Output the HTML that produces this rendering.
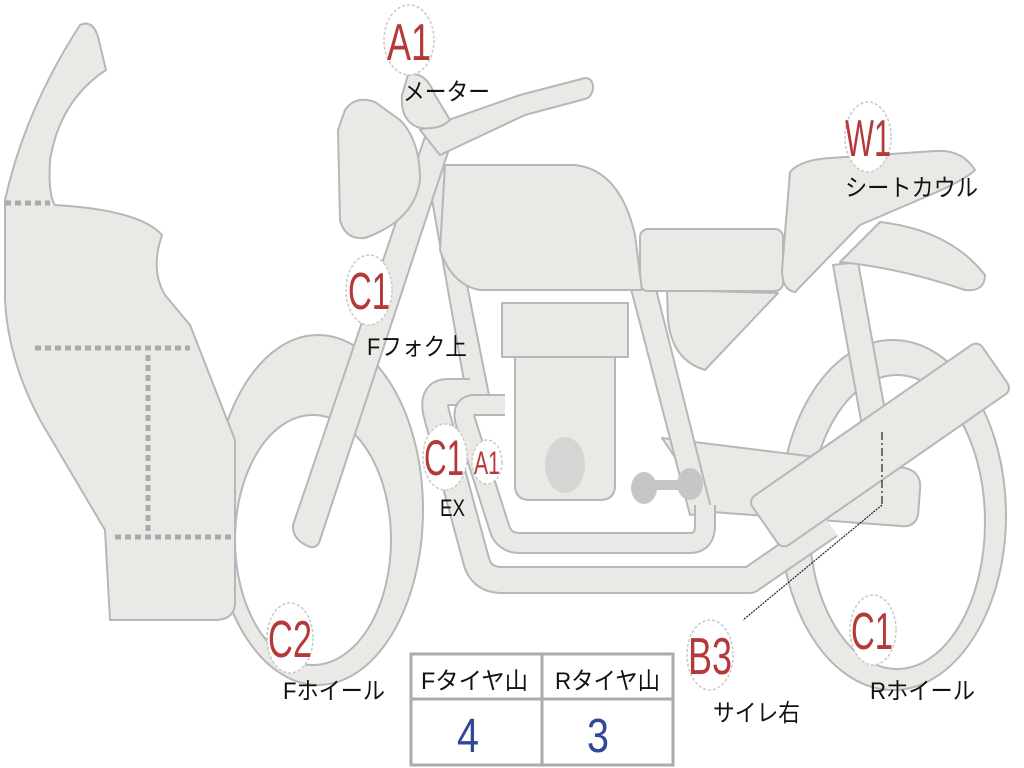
<!DOCTYPE html>
<html><head><meta charset="utf-8"><style>
html,body{margin:0;padding:0;background:#fff;}
svg{display:block;}
.p{fill:#e9e9e6;stroke:#b5b7ba;stroke-width:2;stroke-linejoin:round;}
.lbl{fill:#b5393a;font-family:"Liberation Sans",sans-serif;}
.jp{fill:#111;font-family:"Liberation Sans","Noto Sans CJK JP",sans-serif;font-size:24px;}
.c{fill:#fff;stroke:#c9c9c9;stroke-width:1.5;stroke-dasharray:3 2;}
</style></head><body>
<svg width="1024" height="768" viewBox="0 0 1024 768" xmlns="http://www.w3.org/2000/svg">
<!-- rear wheel -->
<ellipse class="p" cx="893" cy="515" rx="113" ry="175"/>
<ellipse cx="897" cy="522" rx="88" ry="147" fill="#fff" stroke="#b5b7ba" stroke-width="2"/>
<!-- rear strut -->
<polygon class="p" points="833,265 858,262 887,422 862,426"/>
<!-- swingarm -->
<path class="p" d="M662,438 L905,468 Q922,472 920,490 L918,515 Q915,528 900,526 L712,512 Z"/>
<!-- frame tubes -->
<polygon class="p" points="630,285 655,285 712,512 690,515"/>
<polygon class="p" points="425,160 442,160 492,410 470,415"/>
<!-- exhaust pipes -->
<path d="M470,392 L448,392 Q432,392 436,412 L476,560 Q481,580 502,580 L750,580 L830,525" fill="none" stroke="#b5b7ba" stroke-width="28" stroke-linejoin="round"/>
<path d="M470,392 L448,392 Q432,392 436,412 L476,560 Q481,580 502,580 L750,580 L830,525" fill="none" stroke="#e9e9e6" stroke-width="24" stroke-linejoin="round"/>
<path d="M505,405 L475,405 Q462,405 465,420 L500,530 Q505,543 520,543 L690,543 Q705,543 705,525 L705,505" fill="none" stroke="#b5b7ba" stroke-width="22" stroke-linejoin="round"/>
<path d="M505,405 L475,405 Q462,405 465,420 L500,530 Q505,543 520,543 L690,543 Q705,543 705,525 L705,505" fill="none" stroke="#e9e9e6" stroke-width="18" stroke-linejoin="round"/>
<!-- engine -->
<rect class="p" x="502" y="303" width="126" height="54"/>
<path class="p" d="M515,357 L615,357 L615,485 Q615,500 600,500 L530,500 Q515,500 515,485 Z"/>
<ellipse cx="565" cy="465" rx="20" ry="28" fill="#d5d5d4"/>
<g fill="#c6c6c6"><ellipse cx="644" cy="488" rx="13" ry="16"/><ellipse cx="690" cy="484" rx="13" ry="16"/><rect x="644" y="480" width="46" height="10"/></g>
<!-- side cover -->
<path class="p" d="M667,290 L778,293 L705,370 Q672,360 668,320 Z"/>
<!-- muffler -->
<rect class="p" x="740" y="415" width="280" height="60" rx="8" transform="rotate(-34.8 880 445)"/>
<!-- tail fender -->
<path class="p" d="M880,222 Q950,230 985,275 Q985,292 965,290 Q900,268 840,262 Z"/>
<!-- seat -->
<rect class="p" x="640" y="229" width="143" height="62" rx="8"/>
<!-- rear cowl -->
<path class="p" d="M790,172 Q800,160 830,158 L935,151 Q962,149 975,170 Q965,180 930,195 L860,225 L795,292 Q782,290 782,270 Z"/>
<!-- tank -->
<path class="p" d="M445,165 L575,165 Q620,170 635,235 L642,290 L480,290 Q452,285 440,250 Z"/>
<!-- front wheel -->
<ellipse class="p" cx="318" cy="510" rx="105" ry="175"/>
<ellipse cx="313" cy="540" rx="78" ry="125" fill="#fff" stroke="#b5b7ba" stroke-width="2"/>
<!-- fork -->
<path class="p" d="M293,525 Q292,540 310,547 Q318,548 320,540 L452,140 L428,128 Z"/>
<!-- handlebar -->
<path class="p" d="M420,130 L520,95 L585,78 Q593,78 593,88 Q592,97 585,99 L525,115 L440,155 Z"/>
<!-- headlight -->
<path class="p" d="M345,110 Q355,95 375,102 L400,120 Q420,140 420,180 Q415,220 365,238 Q345,240 340,220 L338,130 Z"/>
<!-- meter -->
<path class="p" d="M408,75 Q425,70 435,95 L450,120 Q440,130 420,128 Q400,122 402,95 Z"/>
<!-- fairing -->
<path class="p" d="M80,25 Q95,18 100,45 L106,70 Q60,100 50,160 Q48,195 55,205 Q140,210 162,235 Q150,270 165,295 L190,325 L235,440 L235,605 Q233,620 215,620 L110,620 L105,530 L40,420 Q8,360 5,300 L5,200 Q25,110 80,25 Z"/>
<g stroke="#a9aaac" stroke-width="5" stroke-dasharray="6 4" fill="none">
<line x1="5" y1="203" x2="50" y2="203"/>
<line x1="35" y1="348" x2="190" y2="348"/>
<line x1="148" y1="355" x2="148" y2="532"/>
<line x1="115" y1="537" x2="235" y2="537"/>
</g>
<!-- leader -->
<line x1="882" y1="432" x2="882" y2="505" stroke="#222" stroke-width="1.2" stroke-dasharray="8 3 2 3"/>
<line x1="882" y1="505" x2="743" y2="620" stroke="#222" stroke-width="1.2" stroke-dasharray="2 1"/>
<!-- label circles -->
<ellipse class="c" cx="409" cy="40" rx="25" ry="35"/>
<text class="lbl" x="387" y="60" font-size="52" textLength="44" lengthAdjust="spacingAndGlyphs">A1</text>
<ellipse class="c" cx="369" cy="290" rx="23" ry="35"/>
<text class="lbl" x="348" y="309" font-size="52" textLength="42" lengthAdjust="spacingAndGlyphs">C1</text>
<ellipse class="c" cx="445" cy="457" rx="22" ry="33"/>
<text class="lbl" x="424" y="475" font-size="50" textLength="40" lengthAdjust="spacingAndGlyphs">C1</text>
<ellipse class="c" cx="487" cy="462" rx="15" ry="22"/>
<text class="lbl" x="474" y="474" font-size="32" textLength="26" lengthAdjust="spacingAndGlyphs">A1</text>
<ellipse class="c" cx="290" cy="638" rx="23" ry="35"/>
<text class="lbl" x="268" y="657" font-size="52" textLength="44" lengthAdjust="spacingAndGlyphs">C2</text>
<ellipse class="c" cx="868" cy="137" rx="23" ry="35"/>
<text class="lbl" x="845" y="156" font-size="52" textLength="46" lengthAdjust="spacingAndGlyphs">W1</text>
<ellipse class="c" cx="710" cy="655" rx="23" ry="35"/>
<text class="lbl" x="688" y="674" font-size="52" textLength="44" lengthAdjust="spacingAndGlyphs">B3</text>
<ellipse class="c" cx="873" cy="630" rx="23" ry="35"/>
<text class="lbl" x="851" y="649" font-size="52" textLength="42" lengthAdjust="spacingAndGlyphs">C1</text>
<!-- black labels -->
<text class="jp" x="403" y="100" textLength="87" lengthAdjust="spacingAndGlyphs">メーター</text>
<text class="jp" x="367" y="355" textLength="100" lengthAdjust="spacingAndGlyphs">Fフォク上</text>
<text class="jp" x="440" y="516" textLength="25" lengthAdjust="spacingAndGlyphs">EX</text>
<text class="jp" x="283" y="699" textLength="102" lengthAdjust="spacingAndGlyphs">Fホイール</text>
<text class="jp" x="845" y="196" textLength="133" lengthAdjust="spacingAndGlyphs">シートカウル</text>
<text class="jp" x="713" y="721" textLength="87" lengthAdjust="spacingAndGlyphs">サイレ右</text>
<text class="jp" x="870" y="699" textLength="105" lengthAdjust="spacingAndGlyphs">Rホイール</text>
<!-- table -->
<rect x="411" y="654" width="262" height="111" fill="#fff" stroke="#a9abae" stroke-width="3"/>
<line x1="411" y1="699" x2="673" y2="699" stroke="#a9abae" stroke-width="3"/>
<line x1="542" y1="654" x2="542" y2="765" stroke="#a9abae" stroke-width="3"/>
<text class="jp" x="421" y="689" textLength="107" lengthAdjust="spacingAndGlyphs">Fタイヤ山</text>
<text class="jp" x="555" y="689" textLength="105" lengthAdjust="spacingAndGlyphs">Rタイヤ山</text>
<text x="468" y="752" font-size="48" fill="#2e4a94" font-family="Liberation Sans,sans-serif" text-anchor="middle" textLength="22" lengthAdjust="spacingAndGlyphs">4</text>
<text x="598" y="752" font-size="48" fill="#2e4a94" font-family="Liberation Sans,sans-serif" text-anchor="middle" textLength="22" lengthAdjust="spacingAndGlyphs">3</text>
</svg>
</body></html>
